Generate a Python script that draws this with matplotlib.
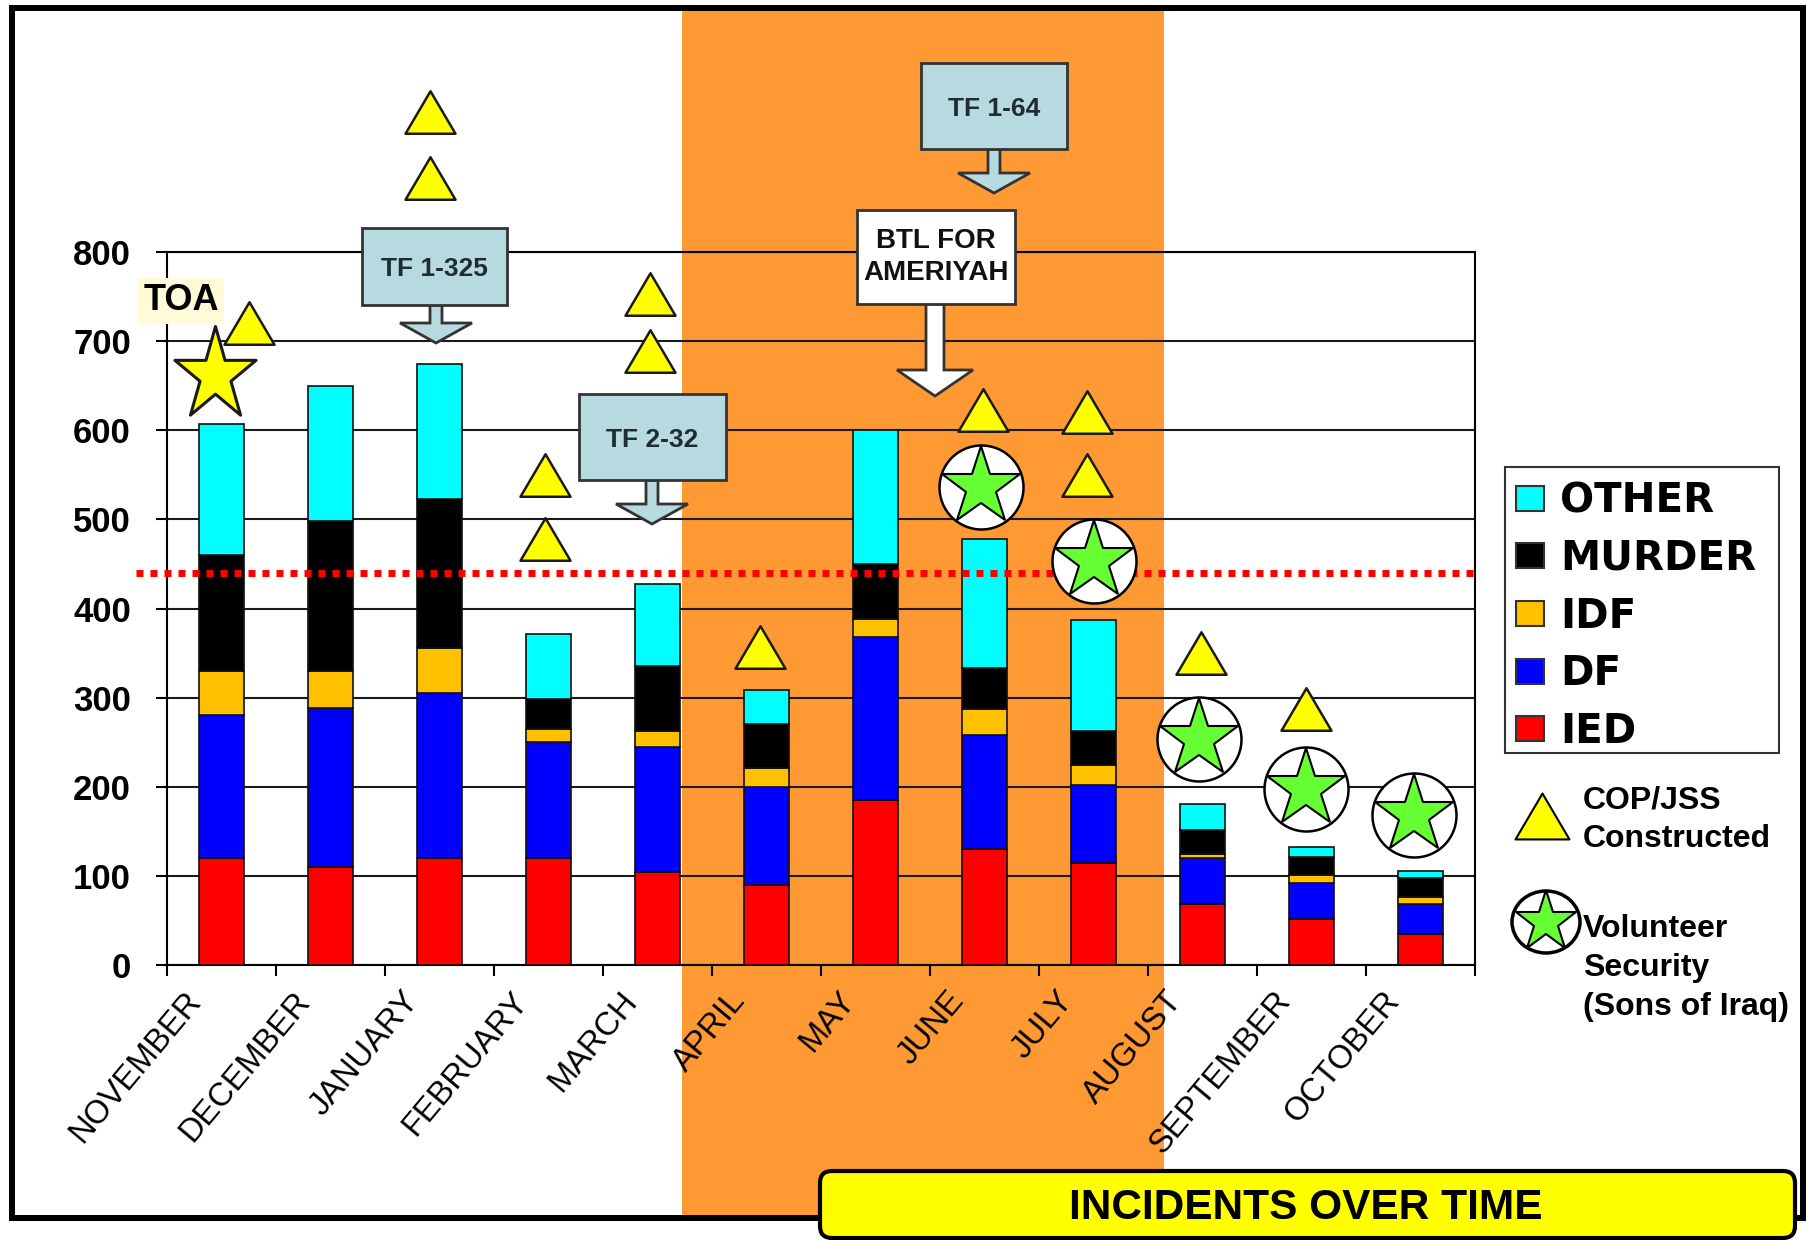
import numpy as np
import matplotlib
matplotlib.use('Agg')
import matplotlib.pyplot as plt
from matplotlib.patches import Rectangle, FancyBboxPatch, Polygon, Patch, Ellipse
from matplotlib.path import Path
from matplotlib.transforms import ScaledTranslation, Affine2D

W, H = 1807, 1240

months = ['NOVEMBER', 'DECEMBER', 'JANUARY', 'FEBRUARY', 'MARCH', 'APRIL',
          'MAY', 'JUNE', 'JULY', 'AUGUST', 'SEPTEMBER', 'OCTOBER']
ied = [120, 110, 120, 120, 104, 90, 185, 130, 115, 68, 52, 35]
df = [160, 178, 185, 130, 141, 110, 183, 128, 87, 52, 40, 33]
idf = [50, 42, 51, 15, 17, 21, 20, 29, 22, 4, 9, 8]
murder = [130, 168, 167, 33, 74, 49, 62, 46, 39, 28, 20, 22]
other = [147, 152, 151, 73, 92, 39, 150, 145, 124, 29, 11, 7]

series_names = ['IED', 'DF', 'IDF', 'MURDER', 'OTHER']
series_colors = ['#FF0000', '#0000FF', '#FFC000', '#000000', '#00FFFF']
yticks = [0, 100, 200, 300, 400, 500, 600, 700, 800]
threshold = 440

# markers, month position / incidents value
cop_x = [1.91, 1.91, 0.25, 3.93, 3.93, 2.97, 2.97, 4.94, 6.99, 7.94, 7.94, 8.99, 9.95]
cop_y = [957, 883, 720, 753, 689, 550, 478, 357, 623, 621, 550, 350, 287]
soi_x = [6.97, 8.0, 8.97, 9.95, 10.94]
soi_y = [536, 453, 254, 198, 168]
toa_x = [-0.06]
toa_y = [662]


def px_pt(p):
    return p * 72 / 100


tri = Path([(-1, -0.85), (1, -0.85), (0, 0.85), (-1, -0.85)], closed=True)
# the TOA star is a bit taller than a regular one
tall_star = Path.unit_regular_star(5, 0.381).transformed(Affine2D().scale(1, 1.15))
arial = ['Liberation Sans', 'DejaVu Sans']
narrow = ['Liberation Sans Narrow', 'Liberation Sans', 'DejaVu Sans']

fig = plt.figure(figsize=(W / 100, H / 100), dpi=100, facecolor='white')

# background layer in pixels
bg = fig.add_axes([0, 0, 1, 1], zorder=0)
bg.set_xlim(0, W)
bg.set_ylim(H, 0)
bg.axis('off')
bg.add_patch(Rectangle((682, 10), 482, 1208, fc='#FF9933', ec='none'))
bg.add_patch(Rectangle((12, 8), 1791, 1210, fc='none', ec='black', lw=px_pt(6)))
bg.add_patch(Rectangle((1505, 467), 274, 286, fc='white', ec='#333333', lw=1.5))

# chart
ax = fig.add_axes([167 / W, 1 - 965 / H, (1475 - 167) / W, (965 - 252) / H], zorder=1)
ax.patch.set_alpha(0)
x = np.arange(len(months))
bottom = np.zeros(len(months))
for vals, name, col in zip([ied, df, idf, murder, other], series_names, series_colors):
    ax.bar(x, vals, 0.42, bottom=bottom, color=col, edgecolor='#101010', lw=1.2, zorder=3, label=name)
    bottom += np.array(vals)

ax.set_xlim(-0.5, 11.5)
ax.set_ylim(0, 800)
ax.set_yticks(yticks)
ax.set_yticklabels([str(v) for v in yticks], fontsize=25, fontweight='bold', family=arial)
ax.set_xticks(np.arange(-0.5, 12, 1))
ax.set_xticklabels([])
ax.set_xticks(x, minor=True)
ax.set_xticklabels(months, minor=True, rotation=50, ha='right', rotation_mode='anchor',
                   fontsize=23.5, family=arial)
ax.tick_params(axis='x', which='minor', length=0, pad=15)
ax.tick_params(axis='both', which='major', length=8, width=1.5, direction='out')
ax.tick_params(axis='y', pad=18)
ax.grid(axis='y', color='#1a1a1a', lw=1.5, zorder=1)
ax.set_axisbelow(True)
for s in ax.spines.values():
    s.set_linewidth(1.5)

# month labels sit left of the bar centres
shift = ScaledTranslation(-0.38, 0, fig.dpi_scale_trans)
for lab in ax.get_xticklabels(minor=True):
    lab.set_transform(lab.get_transform() + shift)

ax.plot([-0.78, 11.55], [threshold, threshold], color='#FF0000', lw=px_pt(7), ls=(0, (1, 1)),
        zorder=6, clip_on=False)
ax.plot(cop_x, cop_y, ls='none', marker=tri, ms=px_pt(50), mfc='#FFFF00', mec='#1a1a1a', mew=1.8,
        zorder=7, clip_on=False)
ax.plot(toa_x, toa_y, ls='none', marker=tall_star, ms=px_pt(98), mfc='#FFFF00', mec='#1a1a1a', mew=2.2,
        zorder=8, clip_on=False)
ax.plot(soi_x, soi_y, ls='none', marker='o', ms=px_pt(84), mfc='white', mec='black', mew=1.8,
        zorder=7, clip_on=False)
ax.plot(soi_x, soi_y, ls='none', marker='*', ms=px_pt(82), mfc='#66FF33', mec='black', mew=1.5,
        zorder=8, clip_on=False)

# legend, reversed like the original, frame is drawn on bg
handles = [Patch(fc=c, ec='#333333', lw=1.5) for c in series_colors[::-1]]
ax.legend(handles, series_names[::-1], loc='upper left',
          bbox_to_anchor=(1505 / W, 1 - 470 / H), bbox_transform=fig.transFigure,
          borderaxespad=0, frameon=False,
          prop={'family': 'DejaVu Sans', 'weight': 'bold', 'size': 29},
          labelspacing=0.44, handlelength=0.7, handleheight=0.58, handletextpad=0.38, borderpad=0.28)

# overlay in pixels
ov = fig.add_axes([0, 0, 1, 1], zorder=2)
ov.set_xlim(0, W)
ov.set_ylim(H, 0)
ov.axis('off')
ov.patch.set_alpha(0)


def box_arrow(x0, y0, x1, y1, tip, cx, fc, sw, hw, hh, label, fs, tc, fam, dy=3):
    pts = [(cx - sw, y1), (cx - sw, tip - hh), (cx - hw, tip - hh), (cx, tip),
           (cx + hw, tip - hh), (cx + sw, tip - hh), (cx + sw, y1)]
    ov.add_patch(Polygon(pts, closed=True, fc=fc, ec='#333333', lw=2, zorder=3))
    ov.add_patch(Rectangle((x0, y0), x1 - x0, y1 - y0, fc=fc, ec='#333333', lw=2, zorder=4))
    ov.text((x0 + x1) / 2, (y0 + y1) / 2 + dy, label, ha='center', va='center', fontsize=fs, color=tc,
            family=fam, fontweight='bold', zorder=5, linespacing=1.35)


blue = '#B7D9E0'
box_arrow(921, 63, 1067, 149, 193, 994, blue, 6, 36, 20, 'TF 1-64', 19, '#1f2d33', narrow)
box_arrow(362, 228, 507, 305, 343, 436, blue, 6, 36, 20, 'TF 1-325', 19, '#1f2d33', narrow)
box_arrow(579, 394, 726, 480, 524, 652, blue, 6, 36, 20, 'TF 2-32', 19, '#1f2d33', narrow)
box_arrow(857, 210, 1015, 304, 396, 935, 'white', 9, 38, 26, 'BTL FOR\nAMERIYAH', 20, '#111111', narrow, dy=0)

ov.text(181, 301, 'TOA', ha='center', va='center', fontsize=26, fontweight='bold', family=narrow,
        bbox=dict(fc='#FFFBD6', ec='none', pad=4), zorder=2)

# side key
ov.plot([1542], [816], ls='none', marker=tri, ms=px_pt(54), mfc='#FFFF00', mec='black', mew=1.5)
ov.text(1583, 820, 'COP/JSS\nConstructed', ha='left', va='center', fontsize=23, fontweight='bold',
        family=arial, linespacing=1.38)
ov.add_patch(Ellipse((1546, 922), 68, 62, fc='white', ec='black', lw=2.5))
ov.plot([1546], [922], ls='none', marker='*', ms=px_pt(64), mfc='#66FF33', mec='black', mew=1.5)
ov.text(1583, 968, 'Volunteer\nSecurity\n(Sons of Iraq)', ha='left', va='center', fontsize=23,
        fontweight='bold', family=arial, linespacing=1.38)

# title bar
ov.add_patch(FancyBboxPatch((820, 1171), 975, 67, boxstyle='round,pad=0,rounding_size=12',
                            fc='#FFFF00', ec='black', lw=3, clip_on=False))
ov.text(1306, 1208, 'INCIDENTS OVER TIME', ha='center', va='center', fontsize=30.5, fontweight='bold',
        family=narrow)

fig.savefig('out.png', dpi=100)
